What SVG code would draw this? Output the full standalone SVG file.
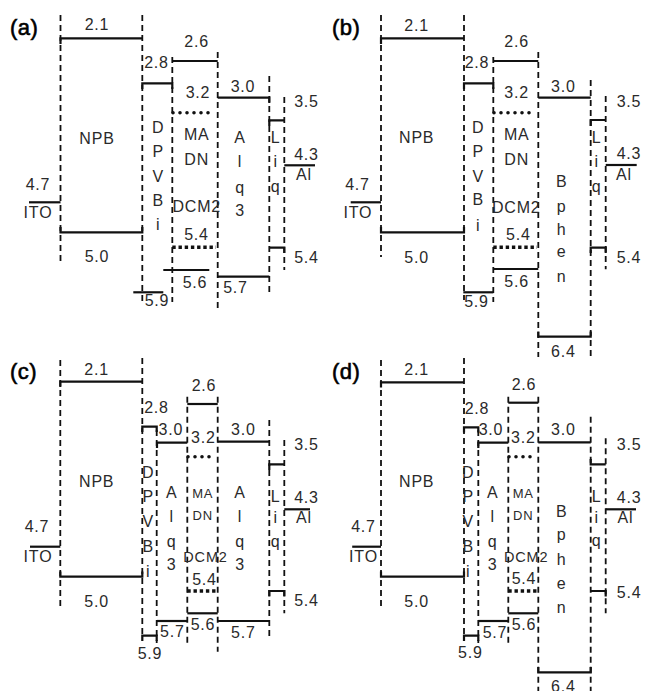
<svg xmlns="http://www.w3.org/2000/svg" width="645" height="691" viewBox="0 0 645 691">
<style>
.d{fill:none;stroke:#111;stroke-width:1.8;stroke-dasharray:6 4}
.s{fill:none;stroke:#111;stroke-width:2.2}
.o{fill:none;stroke:#111;stroke-width:3.6;stroke-dasharray:0 7;stroke-linecap:round}
.q{fill:none;stroke:#111;stroke-width:3.4;stroke-dasharray:3.4 2.8}
text{font-family:"Liberation Sans",Arial,sans-serif;font-size:16px;fill:#2a2a2a;text-anchor:middle;letter-spacing:0.8px}
.p{font-size:22px;text-anchor:start;fill:#000;stroke:#000;stroke-width:0.6;letter-spacing:0.5px}
.m{font-size:13px}
.k{font-size:14.5px}
</style>
<rect width="645" height="691" fill="#fff"/>
<g id="connectors"/>

<!-- Panel (a) -->
<g id="panel-a">
  <text class="p" x="10" y="35">(a)</text>
  <g id="a-ITO">
    <line class="s" x1="29" y1="202.3" x2="60.5" y2="202.3"/>
    <text x="38" y="190">4.7</text>
    <text x="38" y="218">ITO</text>
  </g>
  <g id="a-NPB">
    <line class="d" x1="60.5" y1="15" x2="60.5" y2="262"/>
    <line class="d" x1="142.3" y1="15" x2="142.3" y2="305"/>
    <path class="s" d="M60.5 44 V38.3 H142.3"/>
    <path class="s" d="M60.5 227 V232.3 H142.3 V227"/>
    <text x="97" y="30">2.1</text>
    <text x="97" y="144">NPB</text>
    <text x="97" y="262">5.0</text>
  </g>
  <g id="a-DPVBi">
    <line class="d" x1="172.3" y1="57" x2="172.3" y2="302"/>
    <path class="s" d="M142.3 89 V83.3 H172.3 V89"/>
    <path class="s" d="M133.3 292.3 H163.3"/>
    <text x="156.5" y="68.3">2.8</text>
    <text x="157" y="306">5.9</text>
    <text x="158.3" y="133">D</text>
    <text x="158.3" y="157">P</text>
    <text x="158.3" y="181.5">V</text>
    <text x="158.3" y="205.5">B</text>
    <text x="158.3" y="230">i</text>
  </g>
  <g id="a-MADN-DCM2">
    <line class="d" x1="217.7" y1="52" x2="217.7" y2="312"/>
    <path class="s" d="M172.3 61 H217.7"/>
    <line class="o" x1="173" y1="112.7" x2="214" y2="112.7"/>
    <line class="q" x1="172.3" y1="247.3" x2="216" y2="247.3"/>
    <path class="s" d="M163.3 270 H209.3"/>
    <text x="196.7" y="46.7">2.6</text>
    <text x="198" y="98">3.2</text>
    <text x="196.7" y="140">MA</text>
    <text x="196.7" y="165">DN</text>
    <text x="196.7" y="212">DCM2</text>
    <text x="196.5" y="240">5.4</text>
    <text x="195" y="288">5.6</text>
  </g>
  <g id="a-Alq3">
    <line class="d" x1="269.3" y1="76" x2="269.3" y2="293"/>
    <path class="s" d="M217.7 97.7 H269.3 V103"/>
    <path class="s" d="M217.7 276.7 H269.3"/>
    <text x="243" y="91.7">3.0</text>
    <text x="235.5" y="293.3">5.7</text>
    <text x="240" y="143">A</text>
    <text x="240" y="167">l</text>
    <text x="240" y="193">q</text>
    <text x="240" y="216">3</text>
  </g>
  <g id="a-Liq">
    <line class="d" x1="284.3" y1="97" x2="284.3" y2="270"/>
    <path class="s" d="M269.3 126 V120.3 H284.3"/>
    <path class="s" d="M269.3 247.7 H284.3 V253"/>
    <text x="275.7" y="143">L</text>
    <text x="275.7" y="167">i</text>
    <text x="275.7" y="192">q</text>
    <text x="306.5" y="106.7">3.5</text>
    <text x="306.5" y="263.3">5.4</text>
  </g>
  <g id="a-Al">
    <path class="s" d="M284.3 165.3 H315"/>
    <text x="306.5" y="159.5">4.3</text>
    <text x="304" y="180">Al</text>
  </g>
</g>

<!-- Panel (b) -->
<g id="panel-b" transform="translate(321,0)">
  <text class="p" x="11" y="35">(b)</text>
  <g id="b-ITO">
    <line class="s" x1="29.7" y1="202.3" x2="60" y2="202.3"/>
    <text x="36.5" y="190">4.7</text>
    <text x="36.8" y="218.3">ITO</text>
  </g>
  <g id="b-NPB">
    <line class="d" x1="60" y1="15" x2="60" y2="257"/>
    <line class="d" x1="143" y1="15" x2="143" y2="300"/>
    <path class="s" d="M60 44 V38.3 H143"/>
    <path class="s" d="M60 227 V232.3 H143 V227"/>
    <text x="95.7" y="30.7">2.1</text>
    <text x="95.7" y="143.3">NPB</text>
    <text x="95.7" y="263.3">5.0</text>
  </g>
  <g id="b-DPVBi">
    <line class="d" x1="172.3" y1="57" x2="172.3" y2="302"/>
    <path class="s" d="M143 89 V83.3 H172.3 V89"/>
    <path class="s" d="M142.3 292.3 H172.3"/>
    <text x="156" y="68.3">2.8</text>
    <text x="155.5" y="306.7">5.9</text>
    <text x="157.3" y="133.3">D</text>
    <text x="157.3" y="156.7">P</text>
    <text x="157.3" y="181.7">V</text>
    <text x="157.3" y="205">B</text>
    <text x="157.3" y="231">i</text>
  </g>
  <g id="b-MADN-DCM2">
    <line class="d" x1="217.3" y1="52" x2="217.3" y2="357"/>
    <path class="s" d="M172.3 61 H217.3"/>
    <line class="o" x1="173" y1="112.7" x2="214" y2="112.7"/>
    <line class="q" x1="172.3" y1="247.3" x2="216" y2="247.3"/>
    <path class="s" d="M172.3 269 H217.3"/>
    <text x="195.7" y="46.7">2.6</text>
    <text x="195.7" y="98.3">3.2</text>
    <text x="195.7" y="140">MA</text>
    <text x="195.7" y="165">DN</text>
    <text x="195.2" y="212.5">DCM2</text>
    <text x="197.3" y="240">5.4</text>
    <text x="195.7" y="286.7">5.6</text>
  </g>
  <g id="b-Bphen">
    <line class="d" x1="269.7" y1="80" x2="269.7" y2="357"/>
    <path class="s" d="M217.3 97.7 H269.7"/>
    <path class="s" d="M217.3 331.5 V336.7 H269.7 V331.5"/>
    <text x="242.3" y="91.7">3.0</text>
    <text x="242.3" y="356.7">6.4</text>
    <text x="240.7" y="187.3">B</text>
    <text x="240.7" y="212">p</text>
    <text x="240.7" y="235">h</text>
    <text x="240.7" y="257.3">e</text>
    <text x="240.7" y="281.7">n</text>
  </g>
  <g id="b-Liq">
    <line class="d" x1="284.7" y1="96" x2="284.7" y2="269.3"/>
    <path class="s" d="M269.7 126 V120 H284.7"/>
    <path class="s" d="M269.7 253 V247.7 H284.7 V253"/>
    <text x="275.7" y="143.3">L</text>
    <text x="275.7" y="166.7">i</text>
    <text x="275.7" y="192">q</text>
    <text x="308" y="107.3">3.5</text>
    <text x="308" y="263.3">5.4</text>
  </g>
  <g id="b-Al">
    <path class="s" d="M284.7 165 H315.7"/>
    <text x="308" y="159.3">4.3</text>
    <text x="303" y="180">Al</text>
  </g>
</g>

<!-- Panel (c) -->
<g id="panel-c" transform="translate(0,344)">
  <text class="p" x="10" y="35">(c)</text>
  <g id="c-ITO">
    <line class="s" x1="30" y1="202.7" x2="60.3" y2="202.7"/>
    <text x="37" y="187.7">4.7</text>
    <text x="38" y="217.7">ITO</text>
  </g>
  <g id="c-NPB">
    <line class="d" x1="60.3" y1="16" x2="60.3" y2="262.7"/>
    <line class="d" x1="142.3" y1="14" x2="142.3" y2="293"/>
    <path class="s" d="M60.3 43 V37.7 H142.3"/>
    <path class="s" d="M60.3 227.5 V232.7 H142.3 V227.5"/>
    <text x="96.7" y="31">2.1</text>
    <text x="96.7" y="142.7">NPB</text>
    <text x="96.7" y="262.7">5.0</text>
  </g>
  <g id="c-DPVBi">
    <line class="d" x1="156.7" y1="86" x2="156.7" y2="299"/>
    <path class="s" d="M142.3 88 V82.7 H156.7 V88"/>
    <path class="s" d="M142.3 297 V291.7 H156.7 V297"/>
    <text x="156.5" y="69">2.8</text>
    <text x="150" y="315">5.9</text>
    <text x="148.3" y="134.3">D</text>
    <text x="148.3" y="158">P</text>
    <text x="148.3" y="183">V</text>
    <text x="148.3" y="208">B</text>
    <text x="148.3" y="232.7">i</text>
  </g>
  <g id="c-Alq3-1">
    <line class="d" x1="187.3" y1="52.7" x2="187.3" y2="299"/>
    <path class="s" d="M157 104 V98.7 H187.3"/>
    <path class="s" d="M157 277 H187.3"/>
    <text x="170.8" y="91">3.0</text>
    <text x="172.3" y="292.7">5.7</text>
    <text x="171.7" y="154.3">A</text>
    <text x="171.7" y="177.7">l</text>
    <text x="171.7" y="203">q</text>
    <text x="171.7" y="226">3</text>
  </g>
  <g id="c-MADN-DCM2">
    <line class="d" x1="217.7" y1="52.7" x2="217.7" y2="307.7"/>
    <path class="s" d="M187.3 60 H217.7"/>
    <line class="o" x1="188" y1="112.7" x2="216" y2="112.7"/>
    <line class="q" x1="187.3" y1="247" x2="217.7" y2="247"/>
    <path class="s" d="M187.3 269.3 H217.7"/>
    <text x="204" y="47">2.6</text>
    <text x="203.3" y="99.3">3.2</text>
    <text class="m" x="202.7" y="154.3">MA</text>
    <text class="m" x="202.7" y="176">DN</text>
    <text class="k" x="205.5" y="218.3">DCM2</text>
    <text x="204.5" y="241">5.4</text>
    <text x="203" y="286">5.6</text>
  </g>
  <g id="c-Alq3-2">
    <line class="d" x1="269.3" y1="76" x2="269.3" y2="292.7"/>
    <path class="s" d="M217.7 97.7 H269.3"/>
    <path class="s" d="M217.7 277 H269.3"/>
    <text x="243.3" y="91">3.0</text>
    <text x="243.3" y="294.3">5.7</text>
    <text x="240" y="154.3">A</text>
    <text x="240" y="177.7">l</text>
    <text x="240" y="203">q</text>
    <text x="240" y="226">3</text>
  </g>
  <g id="c-Liq">
    <line class="d" x1="284.3" y1="96" x2="284.3" y2="269.3"/>
    <path class="s" d="M269.3 126 V120.3 H284.3"/>
    <path class="s" d="M269.3 252.5 V247 H284.3 V252.5"/>
    <text x="275.7" y="157.7">L</text>
    <text x="275.7" y="179.3">i</text>
    <text x="275.7" y="203">q</text>
    <text x="306.5" y="106">3.5</text>
    <text x="306.5" y="262">5.4</text>
  </g>
  <g id="c-Al">
    <path class="s" d="M284.3 165.3 H310"/>
    <text x="306.5" y="159.3">4.3</text>
    <text x="304" y="179.3">Al</text>
  </g>
</g>

<!-- Panel (d) -->
<g id="panel-d" transform="translate(321,344)">
  <text class="p" x="11" y="35">(d)</text>
  <g id="d-ITO">
    <line class="s" x1="31.2" y1="202.7" x2="60" y2="202.7"/>
    <text x="42.5" y="187.7">4.7</text>
    <text x="42.5" y="217.7">ITO</text>
  </g>
  <g id="d-NPB">
    <line class="d" x1="60" y1="16" x2="60" y2="262"/>
    <line class="d" x1="143" y1="14" x2="143" y2="293"/>
    <path class="s" d="M60 43.5 V38.3 H143"/>
    <path class="s" d="M60 227.5 V232.7 H143 V227.5"/>
    <text x="95.7" y="31">2.1</text>
    <text x="95.7" y="143.3">NPB</text>
    <text x="95.7" y="262.7">5.0</text>
  </g>
  <g id="d-DPVBi">
    <line class="d" x1="157.3" y1="86" x2="157.3" y2="299"/>
    <path class="s" d="M143 88.5 V83.3 H157.3 V88.5"/>
    <path class="s" d="M143 297 V291.7 H157.3 V297"/>
    <text x="156" y="70">2.8</text>
    <text x="149.3" y="314.3">5.9</text>
    <text x="147.3" y="134.3">D</text>
    <text x="147.3" y="158">P</text>
    <text x="147.3" y="183">V</text>
    <text x="147.3" y="208">B</text>
    <text x="147.3" y="232.7">i</text>
  </g>
  <g id="d-Alq3">
    <line class="d" x1="187.3" y1="52.7" x2="187.3" y2="299"/>
    <path class="s" d="M157.3 104 V98.7 H187.3"/>
    <path class="s" d="M157.3 277 H187.3"/>
    <text x="170" y="91">3.0</text>
    <text x="174" y="294.3">5.7</text>
    <text x="171.7" y="154.3">A</text>
    <text x="171.7" y="177.7">l</text>
    <text x="171.7" y="203">q</text>
    <text x="171.7" y="226">3</text>
  </g>
  <g id="d-MADN-DCM2">
    <line class="d" x1="217.3" y1="52.7" x2="217.3" y2="350"/>
    <path class="s" d="M187.3 58.7 H217.3"/>
    <line class="o" x1="188" y1="112.7" x2="216" y2="112.7"/>
    <line class="q" x1="187.3" y1="247" x2="217.3" y2="247"/>
    <path class="s" d="M187.3 269.3 H217.3"/>
    <text x="203" y="46">2.6</text>
    <text x="202.3" y="99">3.2</text>
    <text class="m" x="202.3" y="154.3">MA</text>
    <text class="m" x="202.3" y="176">DN</text>
    <text class="k" x="205.2" y="218.3">DCM2</text>
    <text x="203" y="240">5.4</text>
    <text x="203" y="286">5.6</text>
  </g>
  <g id="d-Bphen">
    <line class="d" x1="269.7" y1="72.7" x2="269.7" y2="350"/>
    <path class="s" d="M217.3 98.3 H269.7"/>
    <path class="s" d="M217.3 323 V328.3 H269.7 V323"/>
    <text x="242.3" y="91">3.0</text>
    <text x="242.3" y="347.5">6.4</text>
    <text x="240.7" y="172.7">B</text>
    <text x="240.7" y="196">p</text>
    <text x="240.7" y="221">h</text>
    <text x="240.7" y="245.3">e</text>
    <text x="240.7" y="269.3">n</text>
  </g>
  <g id="d-Liq">
    <line class="d" x1="284.7" y1="94.3" x2="284.7" y2="269.3"/>
    <path class="s" d="M269.7 115 V120.3 H284.7"/>
    <path class="s" d="M269.7 247 H284.7 V252.5"/>
    <text x="275.7" y="157.7">L</text>
    <text x="275.7" y="179.3">i</text>
    <text x="275.7" y="202">q</text>
    <text x="308.2" y="106">3.5</text>
    <text x="308.2" y="254.3">5.4</text>
  </g>
  <g id="d-Al">
    <path class="s" d="M284.7 165.3 H315"/>
    <text x="308.2" y="159.3">4.3</text>
    <text x="304.5" y="179.3">Al</text>
  </g>
</g>
</svg>
